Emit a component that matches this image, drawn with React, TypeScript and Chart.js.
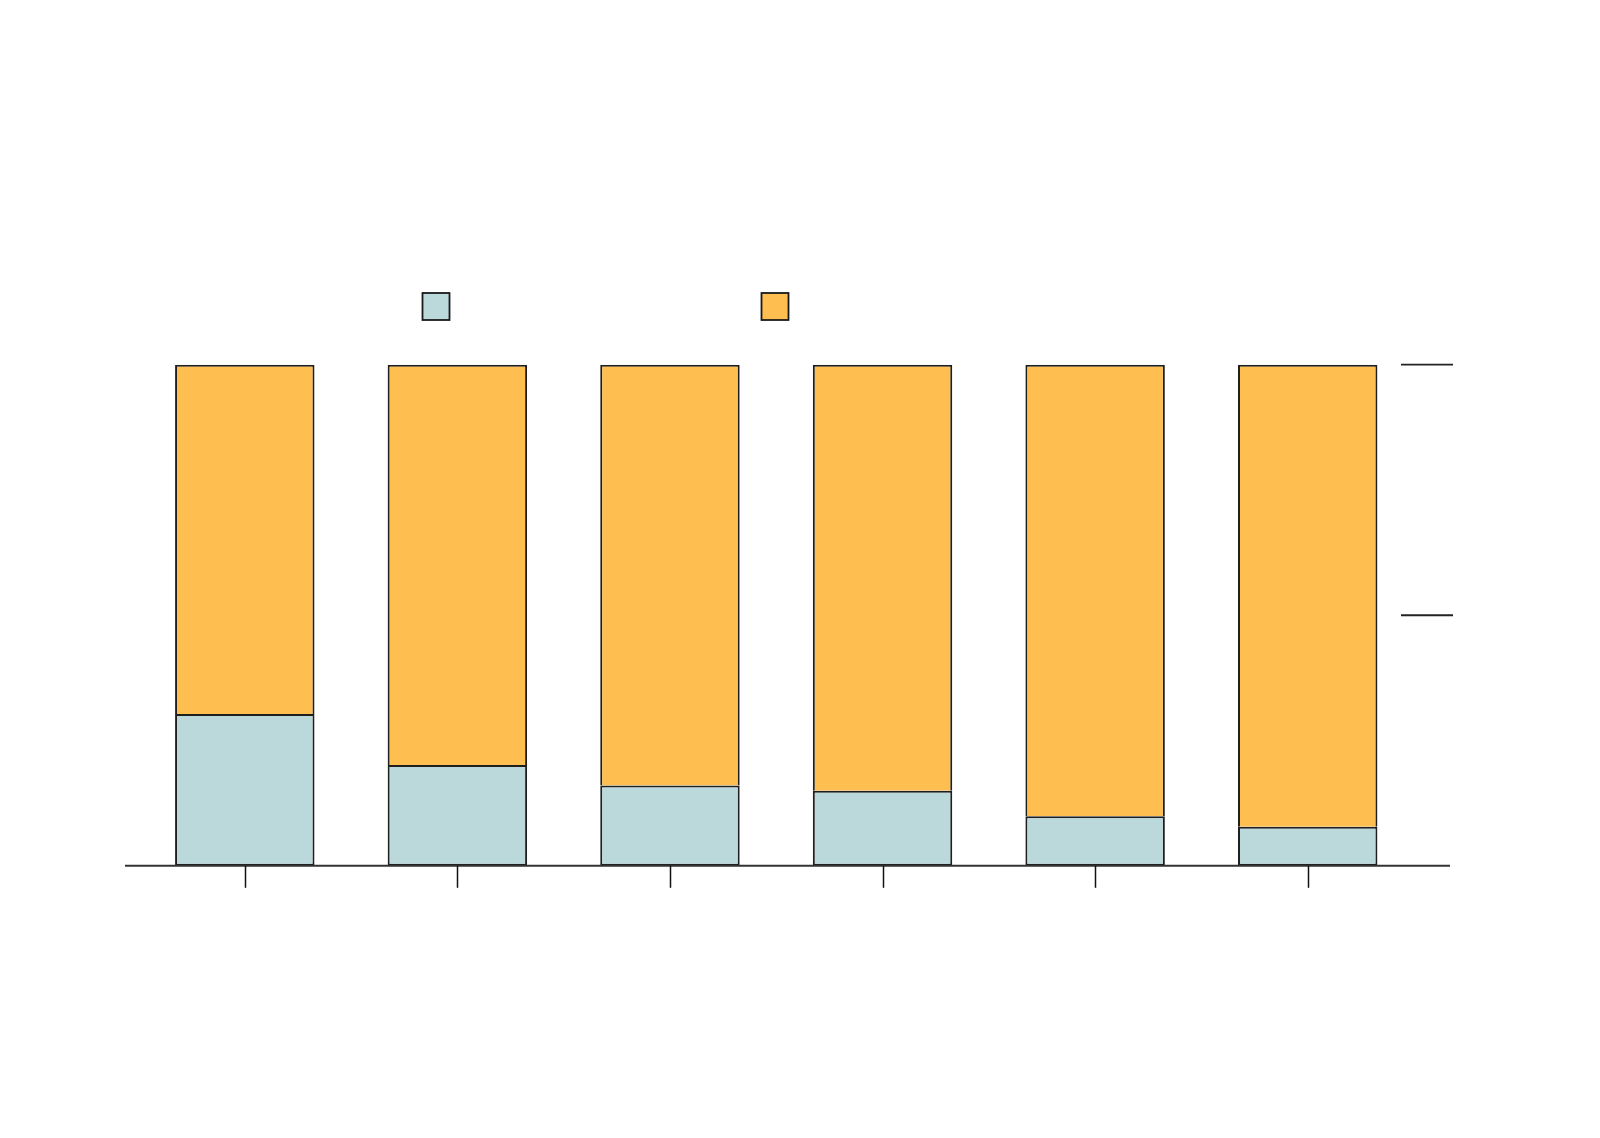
import React, { useEffect, useRef } from "react";
import { Chart, registerables } from "chart.js";

Chart.register(...registerables);

const categories = ["1", "2", "3", "4", "5", "6"];
const seriesA = [30.3, 20.1, 16.0, 15.0, 9.9, 7.8];
const seriesB = [69.7, 79.9, 84.0, 85.0, 90.1, 92.2];
const yTicks = [0, 50, 100];
const colorA = "#BBD8DB";
const colorB = "#FEBE50";
const edge = "#1e1e1e";

const decorPlugin = {
  id: "decor",
  afterDatasetsDraw(chart: any) {
    const { ctx, scales, chartArea } = chart;
    const x = scales.x;
    const y = scales.y;
    const y0 = y.getPixelForValue(0);
    ctx.save();
    // baseline
    ctx.strokeStyle = "#333333";
    ctx.lineWidth = 2;
    ctx.beginPath();
    ctx.moveTo(chartArea.left - 13.5, y0);
    ctx.lineTo(chartArea.right + 36, y0);
    ctx.stroke();
    // x ticks
    ctx.strokeStyle = "#111111";
    ctx.lineWidth = 1.5;
    categories.forEach((_, i) => {
      const px = Math.round(x.getPixelForValue(i)) + 0.5;
      ctx.beginPath();
      ctx.moveTo(px, y0);
      ctx.lineTo(px, y0 + 22);
      ctx.stroke();
    });
    // right y ticks
    ctx.strokeStyle = "#222222";
    ctx.lineWidth = 1.8;
    yTicks.forEach((v) => {
      if (v === 0) return;
      const py = y.getPixelForValue(v);
      ctx.beginPath();
      ctx.moveTo(chartArea.right - 13, py);
      ctx.lineTo(chartArea.right + 39, py);
      ctx.stroke();
    });
    // legend boxes (labels not shown in reference)
    const boxes = [
      { x: 422.5, color: colorA },
      { x: 761.5, color: colorB },
    ];
    boxes.forEach((b) => {
      ctx.fillStyle = b.color;
      ctx.fillRect(b.x, 293, 27, 27);
      ctx.strokeStyle = "#1a1a1a";
      ctx.lineWidth = 1.8;
      ctx.strokeRect(b.x, 293, 27, 27);
    });
    ctx.restore();
  },
};

export default function App() {
  const ref = useRef<HTMLCanvasElement | null>(null);
  useEffect(() => {
    document.body.style.margin = "0";
    const chart = new Chart(ref.current as HTMLCanvasElement, {
      type: "bar",
      data: {
        labels: categories,
        datasets: [
          {
            label: "A",
            data: seriesA,
            backgroundColor: colorA,
            borderColor: edge,
            borderWidth: 2,
            borderSkipped: false,
            categoryPercentage: 1,
            barPercentage: 0.656,
          },
          {
            label: "B",
            data: seriesB,
            backgroundColor: colorB,
            borderColor: edge,
            borderWidth: 2,
            borderSkipped: "bottom",
            categoryPercentage: 1,
            barPercentage: 0.656,
          },
        ],
      },
      options: {
        animation: false,
        responsive: false,
        maintainAspectRatio: false,
        layout: {
          padding: { left: 138.5, right: 186, top: 364.7, bottom: 272.2 },
        },
        plugins: {
          legend: { display: false },
          tooltip: { enabled: false },
          title: { display: false },
        },
        scales: {
          x: { stacked: true, display: false, offset: true },
          y: { stacked: true, display: false, min: 0, max: 100 },
        },
      },
      plugins: [decorPlugin],
    });
    return () => chart.destroy();
  }, []);
  return (
    <div style={{ position: "fixed", left: 0, top: 0, width: 1600, height: 1138, background: "#ffffff" }}>
      <canvas ref={ref} width={1600} height={1138} style={{ width: 1600, height: 1138 }} />
    </div>
  );
}
